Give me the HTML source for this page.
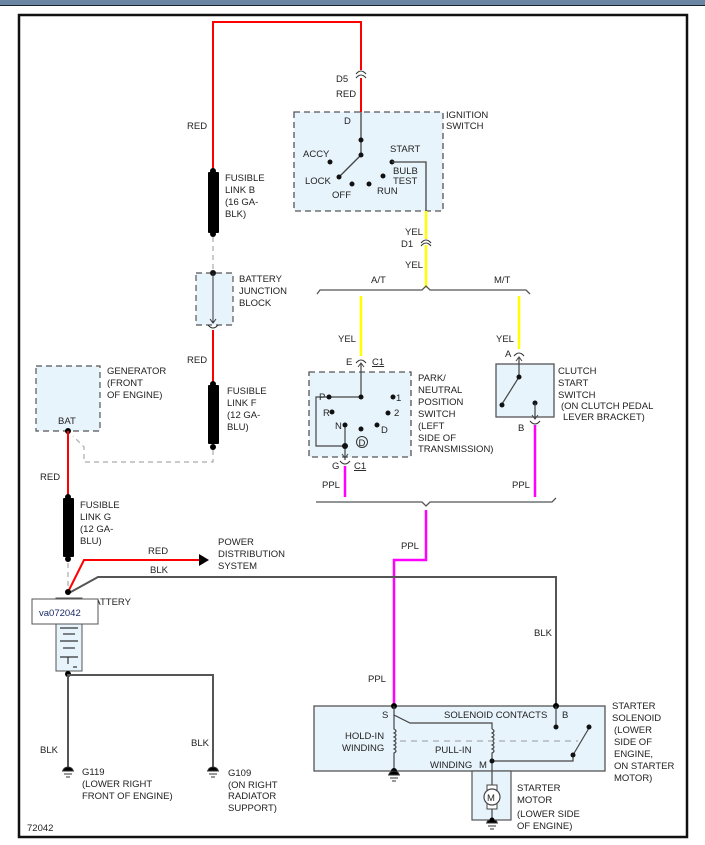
<!DOCTYPE html>
<html><head><meta charset="utf-8"><style>
html,body{margin:0;padding:0;background:#fff;width:705px;height:845px;overflow:hidden}
svg{display:block}
text{font-family:"Liberation Sans",Arial,sans-serif;font-size:9.5px;fill:#222}
</style></head><body>
<svg width="705" height="845" viewBox="0 0 705 845" xmlns="http://www.w3.org/2000/svg">
<rect x="0" y="0" width="705" height="5" fill="#6b86a3"/>
<line x1="0" y1="5.5" x2="705" y2="5.5" stroke="#1a2330" stroke-width="1"/>
<rect x="19" y="15" width="668" height="822" fill="#fff" stroke="#111" stroke-width="2.5"/>

<!-- RED top wire -->
<polyline points="213,172 213,22 361,22 361,70" fill="none" stroke="red" stroke-width="2"/>
<line x1="361" y1="78" x2="361" y2="112" stroke="red" stroke-width="2"/>
<path d="M356,74 Q361,68 366,74 M356,78 Q361,72 366,78" fill="none" stroke="#333" stroke-width="1"/>
<text x="336" y="82">D5</text><text x="336" y="97">RED</text>
<text x="187" y="129">RED</text>

<!-- Ignition switch -->
<rect x="294" y="112" width="149" height="99" fill="#e8f4fc" stroke="#555" stroke-dasharray="6,4" stroke-width="1.3"/>
<text x="344" y="124">D</text>
<text x="446" y="118">IGNITION</text><text x="446" y="129">SWITCH</text>
<line x1="361" y1="112" x2="361" y2="155" stroke="#444" stroke-width="1.3"/>
<line x1="361" y1="155" x2="340" y2="176" stroke="#444" stroke-width="1.3"/>
<circle cx="361" cy="140" r="2.5" fill="#111"/><circle cx="361" cy="155" r="2.5" fill="#111"/>
<circle cx="339" cy="177" r="2.5" fill="#111"/><circle cx="330" cy="162" r="2.5" fill="#111"/>
<circle cx="352" cy="184" r="2.5" fill="#111"/><circle cx="369" cy="184" r="2.5" fill="#111"/>
<circle cx="383" cy="176" r="2.5" fill="#111"/><circle cx="392" cy="162" r="2.5" fill="#111"/>
<polyline points="392,162 426,162 426,211" fill="none" stroke="#444" stroke-width="1.3"/>
<text x="303" y="157">ACCY</text><text x="305" y="184">LOCK</text><text x="332" y="198">OFF</text>
<text x="377" y="194">RUN</text><text x="390" y="152">START</text>
<text x="393" y="174">BULB</text><text x="393" y="184">TEST</text>

<!-- yellow to bracket -->
<line x1="426" y1="211" x2="426" y2="239" stroke="#ff0" stroke-width="2.5"/>
<line x1="426" y1="245" x2="426" y2="288" stroke="#ff0" stroke-width="2.5"/>
<path d="M421,243 Q426,237 431,243 M421,246 Q426,240 431,246" fill="none" stroke="#333" stroke-width="1"/>
<text x="405" y="235">YEL</text><text x="401" y="247">D1</text><text x="405" y="268">YEL</text>
<path d="M317,294 L320,290 L422,290 L426,286 L430,290 L526,290 L530,294" fill="none" stroke="#555" stroke-width="1.3"/>
<text x="371" y="283">A/T</text><text x="494" y="283">M/T</text>
<line x1="361" y1="296" x2="361" y2="356" stroke="#ff0" stroke-width="2.5"/>
<line x1="519" y1="296" x2="519" y2="349" stroke="#ff0" stroke-width="2.5"/>
<text x="338" y="342">YEL</text><text x="496" y="342">YEL</text>

<!-- PN switch -->
<path d="M356,363 Q361,357 366,363" fill="none" stroke="#333"/>
<text x="346" y="365">E</text><text x="372" y="365" text-decoration="underline">C1</text>
<rect x="309" y="372" width="102" height="85" fill="#e8f4fc" stroke="#555" stroke-dasharray="6,4" stroke-width="1.3"/>
<polyline points="361,363 361,397 331,397" fill="none" stroke="#444" stroke-width="1.2"/>
<polyline points="358,367 361,363 364,367" fill="none" stroke="#444"/>
<polyline points="329,397 316,397 316,446 345,446" fill="none" stroke="#444" stroke-width="1.2"/>
<line x1="345" y1="424" x2="345" y2="460" stroke="#444" stroke-width="1.2"/>
<circle cx="329" cy="397" r="2.5" fill="#111"/><circle cx="361" cy="397" r="2.5" fill="#111"/>
<circle cx="393" cy="397" r="2.5" fill="#111"/><circle cx="332" cy="412" r="2.5" fill="#111"/>
<circle cx="388" cy="413" r="2.5" fill="#111"/><circle cx="345" cy="425" r="2.5" fill="#111"/>
<circle cx="361" cy="429" r="2.5" fill="#111"/><circle cx="377" cy="425" r="2.5" fill="#111"/>
<circle cx="345" cy="446" r="3" fill="#111"/>
<circle cx="362" cy="442" r="5.5" fill="none" stroke="#333"/><text x="358.5" y="446" font-size="8">D</text>
<polyline points="342,454 345,458 348,454" fill="none" stroke="#444"/>
<text x="319" y="400">P</text><text x="323" y="416">R</text><text x="335" y="429">N</text>
<text x="396" y="401">1</text><text x="394" y="416">2</text><text x="381" y="433">D</text>
<text x="418" y="381">PARK/</text><text x="418" y="393">NEUTRAL</text><text x="418" y="405">POSITION</text>
<text x="418" y="417">SWITCH</text><text x="418" y="429">(LEFT</text><text x="418" y="441">SIDE OF</text>
<text x="418" y="452">TRANSMISSION)</text>
<path d="M340,461 Q345,467 350,461" fill="none" stroke="#333"/>
<text x="332" y="469">G</text><text x="354" y="469" text-decoration="underline">C1</text>

<!-- Clutch switch -->
<path d="M514,356 Q519,350 524,356" fill="none" stroke="#333"/>
<text x="505" y="357">A</text>
<rect x="496" y="364" width="58" height="53" fill="#e8f4fc" stroke="#555" stroke-width="1.3"/>
<line x1="519" y1="357" x2="519" y2="377" stroke="#444" stroke-width="1.2"/>
<polyline points="516,361 519,357 522,361" fill="none" stroke="#444"/>
<line x1="519" y1="377" x2="502" y2="404" stroke="#444" stroke-width="1.2"/>
<circle cx="519" cy="377" r="2.5" fill="#111"/><circle cx="502" cy="405" r="2.5" fill="#111"/>
<circle cx="535" cy="403" r="2.5" fill="#111"/>
<line x1="535" y1="403" x2="535" y2="419" stroke="#444" stroke-width="1.2"/>
<polyline points="532,415 535,419 538,415" fill="none" stroke="#444"/>
<path d="M530,421 Q535,427 540,421" fill="none" stroke="#333"/>
<text x="518" y="431">B</text>
<text x="558" y="374">CLUTCH</text><text x="558" y="386">START</text><text x="558" y="398">SWITCH</text>
<text x="561" y="409">(ON CLUTCH PEDAL</text><text x="563" y="420">LEVER BRACKET)</text>

<!-- PPL -->
<line x1="345" y1="466" x2="345" y2="497" stroke="#f0f" stroke-width="2.5"/>
<line x1="535" y1="425" x2="535" y2="497" stroke="#f0f" stroke-width="2.5"/>
<text x="322" y="488">PPL</text><text x="512" y="488">PPL</text>
<path d="M316,502 L422,502 L426,506 L430,502 L552,502 L556,498" fill="none" stroke="#555" stroke-width="1.3"/>
<polyline points="426,510 426,560 394,560 394,706" fill="none" stroke="#f0f" stroke-width="2.5"/>
<text x="401" y="549">PPL</text><text x="368" y="682">PPL</text>

<!-- Left column -->
<rect x="208" y="172" width="11" height="61" fill="#000" rx="1"/>
<circle cx="213" cy="171" r="3" fill="#000"/><circle cx="213" cy="234" r="3" fill="#000"/>
<text x="225" y="181">FUSIBLE</text><text x="225" y="193">LINK B</text><text x="225" y="205">(16 GA-</text><text x="225" y="217">BLK)</text>
<line x1="213" y1="237" x2="213" y2="270" stroke="#aaa" stroke-width="1.2" stroke-dasharray="5,4"/>
<rect x="196" y="273" width="37" height="52" fill="#e8f4fc" stroke="#555" stroke-dasharray="6,4" stroke-width="1.2"/>
<circle cx="213" cy="273" r="3" fill="#111"/>
<line x1="213" y1="273" x2="213" y2="323" stroke="#333"/>
<polyline points="210,319 213,323 216,319" fill="none" stroke="#333"/>
<path d="M208,325 Q213,331 218,325" fill="none" stroke="#333"/>
<text x="239" y="282">BATTERY</text><text x="239" y="294">JUNCTION</text><text x="239" y="306">BLOCK</text>
<line x1="213" y1="330" x2="213" y2="384" stroke="red" stroke-width="2"/>
<text x="187" y="363">RED</text>
<rect x="208" y="385" width="11" height="59" fill="#000" rx="1"/>
<circle cx="213" cy="384" r="3" fill="#000"/><circle cx="213" cy="447" r="3" fill="#000"/>
<text x="227" y="394">FUSIBLE</text><text x="227" y="406">LINK F</text><text x="227" y="418">(12 GA-</text><text x="227" y="430">BLU)</text>
<polyline points="213,450 213,462 84,462 84,447 73,436" fill="none" stroke="#aaa" stroke-width="1.2" stroke-dasharray="5,4"/>
<rect x="36" y="366" width="64" height="65" fill="#e8f4fc" stroke="#555" stroke-dasharray="6,4" stroke-width="1.2"/>
<text x="58" y="424">BAT</text>
<text x="107" y="374">GENERATOR</text><text x="107" y="386">(FRONT</text><text x="107" y="398">OF ENGINE)</text>
<circle cx="68" cy="431" r="3" fill="#000"/>
<line x1="68" y1="431" x2="68" y2="497" stroke="red" stroke-width="2"/>
<text x="40" y="480">RED</text>
<rect x="63" y="498" width="11" height="59" fill="#000" rx="1"/>
<circle cx="68" cy="497" r="3" fill="#000"/><circle cx="68" cy="559" r="3" fill="#000"/>
<text x="80" y="508">FUSIBLE</text><text x="80" y="520">LINK G</text><text x="80" y="532">(12 GA-</text><text x="80" y="544">BLU)</text>
<line x1="68" y1="563" x2="68" y2="595" stroke="#aaa" stroke-width="1.2" stroke-dasharray="5,4"/>
<polyline points="68,592 84,560 200,560" fill="none" stroke="red" stroke-width="2"/>
<polygon points="199,554 209,560 199,566" fill="#000"/>
<text x="148" y="554">RED</text><text x="150" y="573">BLK</text>
<text x="218" y="545">POWER</text><text x="218" y="557">DISTRIBUTION</text><text x="218" y="569">SYSTEM</text>
<polyline points="69,593 98,577 556,577 556,706" fill="none" stroke="#555" stroke-width="2"/>
<text x="534" y="636">BLK</text>
<!-- battery -->
<rect x="56" y="598" width="26" height="73" fill="#e8f4fc" stroke="#555"/>
<g stroke="#333" stroke-width="1.2">
<line x1="60" y1="628" x2="78" y2="628"/><line x1="63" y1="634" x2="75" y2="634"/>
<line x1="60" y1="641" x2="78" y2="641"/><line x1="63" y1="648" x2="75" y2="648"/>
<line x1="60" y1="657" x2="78" y2="657"/><line x1="68" y1="657" x2="68" y2="664"/>
<line x1="73" y1="667" x2="77" y2="667"/></g>
<circle cx="68" cy="592" r="3" fill="#000"/>
<text x="88" y="605">BATTERY</text>
<rect x="32" y="599" width="66" height="25" fill="#fff" stroke="#555"/>
<text x="39" y="616" font-size="12" style="fill:#1a2a66">va072042</text>
<circle cx="68" cy="674" r="3" fill="#000"/>
<polyline points="68,674 68,768" fill="none" stroke="#555" stroke-width="2"/>
<polyline points="68,675 213,675 213,768" fill="none" stroke="#555" stroke-width="2"/>
<text x="40" y="753">BLK</text><text x="191" y="746">BLK</text>
<g fill="#000" stroke="#333">
<path d="M63,771 a5,4 0 0 1 10,0 z"/><line x1="62" y1="771" x2="74" y2="771"/><line x1="64" y1="774" x2="72" y2="774"/><line x1="66" y1="777" x2="70" y2="777"/>
<path d="M208,771 a5,4 0 0 1 10,0 z"/><line x1="207" y1="771" x2="219" y2="771"/><line x1="209" y1="774" x2="217" y2="774"/><line x1="211" y1="777" x2="215" y2="777"/>
</g>
<text x="82" y="775">G119</text><text x="82" y="787">(LOWER RIGHT</text><text x="82" y="799">FRONT OF ENGINE)</text>
<text x="228" y="776">G109</text><text x="228" y="788">(ON RIGHT</text><text x="228" y="799">RADIATOR</text><text x="228" y="811">SUPPORT)</text>
<text x="27" y="831">72042</text>

<!-- Solenoid -->
<rect x="314" y="706" width="291" height="65" fill="#e8f4fc" stroke="#555" stroke-width="1.3"/>
<circle cx="394" cy="706" r="3" fill="#000"/><circle cx="556" cy="706" r="3" fill="#000"/>
<g fill="none" stroke="#444" stroke-width="1.2">
<polyline points="394,706 394,715 410,723 492,723 492,729"/>
<path d="M394,715 L394,729 q4,2 0,4 q4,2 0,4 q4,2 0,4 q4,2 0,4 q4,2 0,4 q4,2 0,4 L394,771"/>
<path d="M492,729 q4,2 0,4 q4,2 0,4 q4,2 0,4 q4,2 0,4 q4,2 0,4 q4,2 0,4 L492,790"/>
<line x1="556" y1="706" x2="556" y2="727"/>
<polyline points="492,761 573,761 573,755 589,728"/>
</g>
<line x1="400" y1="741" x2="578" y2="741" stroke="#999" stroke-dasharray="6,5"/>
<circle cx="556" cy="727" r="2.5" fill="#111"/><circle cx="589" cy="727" r="2.5" fill="#111"/>
<circle cx="573" cy="755" r="2.5" fill="#111"/><circle cx="492" cy="761" r="2.5" fill="#111"/>
<circle cx="394" cy="771" r="3" fill="#000"/>
<text x="382" y="718">S</text><text x="444" y="718">SOLENOID CONTACTS</text><text x="562" y="718">B</text>
<text x="345" y="739">HOLD-IN</text><text x="342" y="751">WINDING</text>
<text x="435" y="753">PULL-IN</text><text x="430" y="768">WINDING</text><text x="479" y="768">M</text>
<text x="612" y="709">STARTER</text><text x="612" y="721">SOLENOID</text><text x="614" y="733">(LOWER</text>
<text x="614" y="745">SIDE OF</text><text x="614" y="757">ENGINE,</text><text x="614" y="769">ON STARTER</text><text x="614" y="781">MOTOR)</text>
<g fill="#000" stroke="#333">
<path d="M389,775 a5,4 0 0 1 10,0 z"/><line x1="388" y1="775" x2="400" y2="775"/><line x1="390" y1="778" x2="398" y2="778"/><line x1="392" y1="781" x2="396" y2="781"/>
<path d="M487,823 a5,4 0 0 1 10,0 z"/><line x1="486" y1="823" x2="498" y2="823"/><line x1="488" y1="826" x2="496" y2="826"/><line x1="490" y1="829" x2="494" y2="829"/>
</g>
<!-- Starter motor -->
<rect x="472" y="771" width="39" height="49" fill="#e8f4fc" stroke="#555" stroke-width="1.2"/>
<line x1="492" y1="771" x2="492" y2="820" stroke="#444" stroke-width="1.2"/>
<rect x="487" y="785" width="10" height="24" fill="#fff" stroke="#444"/>
<circle cx="492" cy="797" r="8" fill="#fff" stroke="#444" stroke-width="1.2"/>
<text x="487" y="801" font-size="10">M</text>
<circle cx="492" cy="820" r="2.5" fill="#000"/>
<text x="517" y="791">STARTER</text><text x="517" y="803">MOTOR</text>
<text x="517" y="817">(LOWER SIDE</text><text x="517" y="829">OF ENGINE)</text>
</svg>
</body></html>
